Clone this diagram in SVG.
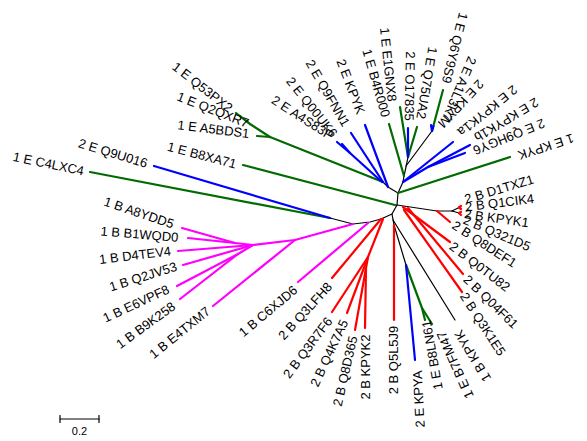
<svg xmlns="http://www.w3.org/2000/svg" width="587" height="441" viewBox="0 0 587 441">
<style>
.e{fill:none;stroke-linecap:round;stroke-linejoin:round}
.k{stroke:#000;stroke-width:1.2}
.g{stroke:#006b00;stroke-width:2.2}
.b{stroke:#0000ff;stroke-width:2.2}
.r{stroke:#ff0000;stroke-width:2.2}
.m{stroke:#ff00ff;stroke-width:2.2}
text{font-family:"Liberation Sans",Arial,sans-serif;font-size:13px;fill:#000;text-anchor:middle}
</style>
<rect width="587" height="441" fill="#fff"/>
<g id="connectors" class="e">
<!-- black backbone -->
<polyline class="k" points="383,182 388,187 398,193 397,205"/>
<polyline class="k" points="398,193 403,182 404,176 406,167 408,157"/>
<polyline class="k" points="406,166 432,131"/>
<polyline class="k" points="397,205 392,214 381,219 370,222 353,224 330,218"/>
<polyline class="k" points="392,214 394,225"/>
<polyline class="k" points="394,225 406,265"/>
<polyline class="k" points="393,220 455,320"/>
<polyline class="k" points="397,205 437,211 452,211"/>
<polyline class="k" points="452,211 459,207.5"/>
<polyline class="k" points="452,211 459,213"/>
<!-- green -->
<polyline class="g" points="90,172 330,218"/>
<polyline class="g" points="243,165 395,205"/>
<polyline class="g" points="383,182 270,137 257,136"/>
<polyline class="g" points="270,137 250,124 236,113"/>
<polyline class="g" points="250,124 240,116"/>
<polyline class="g" points="398,193 510,157"/>
<polyline class="g" points="404,176 389,124"/>
<polyline class="g" points="408,157 400,107"/>
<polyline class="g" points="408,157 417,127"/>
<polyline class="g" points="432,131 443,90"/>
<polyline class="g" points="406,265 422,308 432,324"/>
<polyline class="g" points="422,308 425,320"/>
<!-- blue -->
<polyline class="b" points="154,166 330,218"/>
<polyline class="b" points="382,182 350,153 337,142"/>
<polyline class="b" points="350,153 342,144"/>
<polyline class="b" points="383,182 351,133"/>
<polyline class="b" points="388,187 365,125"/>
<polyline class="b" points="408,157 408,128"/>
<polyline class="b" points="403,182 453,142"/>
<polyline class="b" points="403,182 428,167 470,145"/>
<polyline class="b" points="428,167 465,153"/>
<polyline class="b" points="432,131 431,125"/>
<polyline class="b" points="432,131 433.5,126"/>
<polyline class="b" points="406,265 415,360"/>
<!-- magenta -->
<polyline class="m" points="353,224 295,240 253,245"/>
<polyline class="m" points="295,240 213,306"/>
<polyline class="m" points="368,223 298,282"/>
<polyline class="m" points="253,245 235,243 182,228"/>
<polyline class="m" points="235,243 188,238"/>
<polyline class="m" points="253,245 178,251"/>
<polyline class="m" points="253,245 183,265"/>
<polyline class="m" points="253,245 238,254 177,286"/>
<polyline class="m" points="238,254 180,299"/>
<!-- red -->
<polyline class="r" points="381,219 332,278"/>
<polyline class="r" points="383,219 368,257 332,312"/>
<polyline class="r" points="368,257 347,313"/>
<polyline class="r" points="368,257 366,268 355,330"/>
<polyline class="r" points="366,268 365,328"/>
<polyline class="r" points="394,225 394,320"/>
<polyline class="r" points="403,207 450,242"/>
<polyline class="r" points="408,208 463,274"/>
<polyline class="r" points="404,210 462,292"/>
<polyline class="r" points="437,211 450,222"/>
<polyline class="r" points="459,207.5 461,206"/>
<polyline class="r" points="459,207.5 461,209"/>
<polyline class="r" points="459,213 461,212"/>
<polyline class="r" points="459,213 461,215"/>
</g>
<g id="labels">
<g id="n1"><text transform="translate(202.5,87) rotate(38)" dy="0.36em">1 E Q53PX2</text></g>
<g id="n2"><text transform="translate(213,109.5) rotate(21.6)" dy="0.36em">1 E Q2QXR7</text></g>
<g id="n3"><text transform="translate(213.5,129) rotate(7)" dy="0.36em">1 E A5BDS1</text></g>
<g id="n4"><text transform="translate(202,155) rotate(14.7)" dy="0.36em">1 E B8XA71</text></g>
<g id="n5"><text transform="translate(113,153) rotate(17)" dy="0.36em">2 E Q9U016</text></g>
<g id="n6"><text transform="translate(48.5,163.5) rotate(11.7)" dy="0.36em">1 E C4LXC4</text></g>
<g id="n7"><text transform="translate(139,212.5) rotate(18.7)" dy="0.36em">1 B A8YDD5</text></g>
<g id="n8"><text transform="translate(139.5,234) rotate(4.8)" dy="0.36em">1 B B1WQD0</text></g>
<g id="n9"><text transform="translate(135,255) rotate(-7)" dy="0.36em">1 B D4TEV4</text></g>
<g id="n10"><text transform="translate(143,276.5) rotate(-17.6)" dy="0.36em">1 B Q2JV53</text></g>
<g id="n11"><text transform="translate(136,303.5) rotate(-25)" dy="0.36em">1 B E6VPF8</text></g>
<g id="n12"><text transform="translate(145.5,325) rotate(-36)" dy="0.36em">1 B B9K258</text></g>
<g id="n13"><text transform="translate(179.5,332.5) rotate(-38.8)" dy="0.36em">1 B E4TXM7</text></g>
<g id="n14"><text transform="translate(268,311) rotate(-40)" dy="0.36em">1 B C6XJD6</text></g>
<g id="n15"><text transform="translate(305,311) rotate(-47.5)" dy="0.36em">2 B Q3LFH8</text></g>
<g id="n16"><text transform="translate(307.5,347.5) rotate(-53)" dy="0.36em">2 B Q3R7F6</text></g>
<g id="n17"><text transform="translate(329,353) rotate(-65)" dy="0.36em">2 B Q4K7A5</text></g>
<g id="n18"><text transform="translate(345,371) rotate(-77)" dy="0.36em">2 B Q8D365</text></g>
<g id="n19"><text transform="translate(365,367) rotate(-90)" dy="0.36em">2 B KPYK2</text></g>
<g id="n20"><text transform="translate(393,360) rotate(-90)" dy="0.36em">2 B Q5L5J9</text></g>
<g id="n21"><text transform="translate(418.5,399) rotate(-93)" dy="0.36em">2 E KPYA</text></g>
<g id="n22"><text transform="translate(432,355) rotate(-100)" dy="0.36em">1 E B8LN61</text></g>
<g id="n23"><text transform="translate(455,365) rotate(-114)" dy="0.36em">1 E B7FM47</text></g>
<g id="n24"><text transform="translate(472.5,356) rotate(-121)" dy="0.36em">1 B KPYK</text></g>
<g id="n25"><text transform="translate(483,324) rotate(57)" dy="0.36em">2 B Q3K1E5</text></g>
<g id="n26"><text transform="translate(491,301.5) rotate(44)" dy="0.36em">2 B Q04F61</text></g>
<g id="n27"><text transform="translate(480,266.5) rotate(37.5)" dy="0.36em">2 B Q0TU82</text></g>
<g id="n28"><text transform="translate(484.5,244) rotate(33)" dy="0.36em">2 B Q8DEF1</text></g>
<g id="n29"><text transform="translate(497,233) rotate(23)" dy="0.36em">2 B Q321D5</text></g>
<g id="n30"><text transform="translate(496.5,218) rotate(8)" dy="0.36em">2 B KPYK1</text></g>
<g id="n31"><text transform="translate(499.5,202.5) rotate(-7)" dy="0.36em">2 B Q1CIK4</text></g>
<g id="n32"><text transform="translate(499,189) rotate(-16.6)" dy="0.36em">2 B D1TXZ1</text></g>
<g id="n33"><text transform="translate(546,147) rotate(162)" dy="0.36em">1 E KPYK</text></g>
<g id="n34"><text transform="translate(509,137) rotate(158)" dy="0.36em">2 E Q9HGY6</text></g>
<g id="n35"><text transform="translate(506.5,120) rotate(149)" dy="0.36em">2 E KPYK1b</text></g>
<g id="n36"><text transform="translate(487.5,111) rotate(141)" dy="0.36em">2 E KPYK1a</text></g>
<g id="n37"><text transform="translate(461,104) rotate(133)" dy="0.36em">2 E KPYM</text></g>
<g id="n38"><text transform="translate(459.5,89) rotate(113)" dy="0.36em">2 E A1L3K7</text></g>
<g id="n39"><text transform="translate(455,48) rotate(104)" dy="0.36em">1 E Q6Y9S9</text></g>
<g id="n40"><text transform="translate(427,83) rotate(99.5)" dy="0.36em">1 E Q75UA2</text></g>
<g id="n41"><text transform="translate(410,86) rotate(91)" dy="0.36em">2 E O17835</text></g>
<g id="n42"><text transform="translate(388.5,64.5) rotate(84)" dy="0.36em">1 E E1GNX8</text></g>
<g id="n43"><text transform="translate(376.5,83) rotate(74)" dy="0.36em">1 E B4R000</text></g>
<g id="n44"><text transform="translate(351,86.5) rotate(69)" dy="0.36em">2 E KPYK</text></g>
<g id="n45"><text transform="translate(328,93) rotate(60)" dy="0.36em">2 E Q9FNN1</text></g>
<g id="n46"><text transform="translate(312,107) rotate(51)" dy="0.36em">2 E Q00UK6</text></g>
<g id="n47"><text transform="translate(302.5,117.5) rotate(32.5)" dy="0.36em">2 E A4S83P</text></g>
</g>
<g id="scalebar">
<polyline class="e k" points="60,419 99,419"/>
<polyline class="e k" points="60,415.5 60,422.5"/>
<polyline class="e k" points="99,415.5 99,422.5"/>
<text x="79.5" y="435" style="font-size:11px">0.2</text>
</g>
</svg>
